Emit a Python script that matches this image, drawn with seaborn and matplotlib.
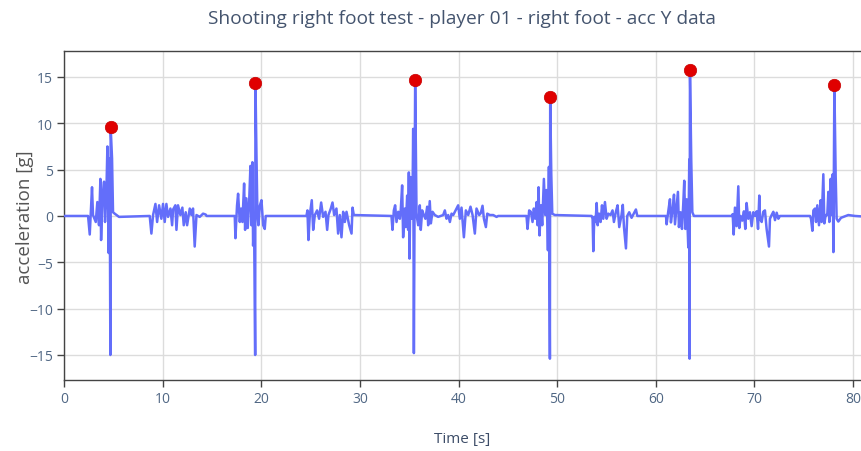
import matplotlib
matplotlib.use("Agg")
import matplotlib.pyplot as plt
import seaborn as sns
import pandas as pd

# ---- data ----
time_s = [
    0.00, 2.44, 2.61, 2.84, 2.94, 3.22, 3.38, 3.55, 3.69, 3.76, 3.89, 4.06, 4.16, 4.30, 4.40,
    4.53, 4.63, 4.70, 4.73, 4.87, 4.97, 5.14, 5.58,
    8.69, 8.86, 9.03, 9.27, 9.44, 9.64, 9.87, 10.04, 10.21, 10.38, 10.55, 10.79, 10.96, 11.06,
    11.29, 11.40, 11.56, 11.80, 12.00, 12.14, 12.34, 12.48, 12.75, 12.92, 13.08, 13.25, 13.43,
    13.76, 14.10, 14.37, 14.45,
    17.31, 17.38, 17.54, 17.65, 17.82, 17.95, 18.09, 18.26, 18.36, 18.49, 18.63, 18.77, 18.90,
    19.00, 19.10, 19.17, 19.27, 19.38, 19.41, 19.51, 19.61, 19.71, 19.85, 20.02, 20.19, 20.35,
    20.45,
    24.58, 24.68, 24.78, 24.92, 25.12, 25.26, 25.43, 25.66, 25.86, 26.07, 26.27, 26.51, 26.68,
    26.81, 27.05, 27.22, 27.39, 27.62, 27.79, 27.96, 28.13, 28.30, 28.47, 28.64, 28.91, 29.15,
    29.25, 29.38,
    33.20, 33.30, 33.44, 33.57, 33.71, 33.88, 34.05, 34.15, 34.28, 34.38, 34.55, 34.65, 34.79,
    34.89, 34.96, 35.03, 35.13, 35.23, 35.33, 35.40, 35.47, 35.60, 35.74, 35.91, 36.07, 36.17,
    36.31, 36.48, 36.64, 36.82, 36.92, 37.08, 37.19, 37.36, 37.59, 37.93, 38.44, 38.61, 38.78,
    38.95, 39.12, 39.29, 39.46, 39.96, 40.13, 40.30, 40.54, 40.74, 40.98, 41.21, 41.42, 41.65,
    41.82, 42.09, 42.25, 42.43, 42.57, 42.77, 42.91, 43.17, 43.51, 43.85, 44.02,
    46.89, 46.99, 47.16, 47.33, 47.50, 47.63, 47.77, 47.91, 48.01, 48.11, 48.21, 48.35, 48.48,
    48.65, 48.79, 48.92, 49.06, 49.16, 49.26, 49.29, 49.40, 49.50, 49.76,
    53.49, 53.59, 53.66, 53.76, 53.89, 54.00, 54.10, 54.24, 54.40, 54.54, 54.67, 54.84, 55.01,
    55.18, 55.41, 55.61, 55.75, 55.95, 56.12, 56.29, 56.52, 56.65, 56.77, 56.97, 57.10, 57.30,
    57.54, 57.78, 57.98, 58.12,
    61.03, 61.09, 61.26, 61.43, 61.53, 61.70, 61.84, 61.94, 62.11, 62.24, 62.34, 62.51, 62.65,
    62.78, 62.88, 62.99, 63.12, 63.29, 63.39, 63.42, 63.46, 63.59, 63.70, 63.86,
    67.68, 67.79, 67.89, 68.02, 68.19, 68.36, 68.46, 68.60, 68.77, 68.93, 69.07, 69.20, 69.37,
    69.54, 69.71, 69.88, 70.05, 70.22, 70.36, 70.49, 70.56, 70.73, 70.89, 71.06, 71.23, 71.47,
    71.57, 71.74, 71.91, 72.08, 72.25, 72.42, 72.58,
    75.63, 75.73, 75.87, 75.97, 76.14, 76.24, 76.37, 76.54, 76.71, 76.81, 76.98, 77.08, 77.22,
    77.38, 77.49, 77.59, 77.72, 77.83, 77.93, 78.00, 78.10, 78.23, 78.33, 78.50, 78.77, 79.01,
    79.51, 80.19, 80.90,
]
acc_y_g = [
    0.00, 0.00, -2.0, 3.1, 0.1, -0.65, 1.5, -1.0, 4.0, -2.6, 1.9, 3.7, -0.65, 2.6, 7.5,
    -4.0, 6.2, -15.0, 9.6, 6.2, 0.4, 0.25, -0.1,
    0.0, -1.9, 0.1, 1.3, -0.65, 1.15, -0.3, 1.3, -0.65, 1.3, -0.1, 0.8, -1.0, 0.7,
    1.15, -1.5, 1.15, 0.1, 0.9, -1.0, 0.4, -1.0, 0.8, 0.1, 0.8, -3.3, 0.1,
    -0.1, 0.25, 0.15, 0.0,
    0.0, -2.4, 1.1, 2.4, -0.65, 0.8, -0.65, 3.5, -1.5, 1.9, -1.3, 1.5, 5.4,
    -1.0, 5.8, -3.2, -0.65, -15.0, 14.4, 6.7, 0.1, -1.0, 1.1, 1.7, -1.0, -1.4,
    0.0,
    0.0, 0.6, -2.6, 0.1, 1.7, -1.5, 0.1, 0.6, -0.3, 1.45, -0.1, 0.45, -1.5,
    0.1, 0.8, 1.45, 0.1, 0.8, -1.9, 0.1, -2.3, 0.45, -0.65, 0.45, -1.0, -1.9,
    0.9, 0.1,
    0.0, -1.5, 0.6, 1.15, -0.65, 0.45, -0.3, 0.8, 3.3, -2.3, 0.8, -1.2, 2.2,
    -1.5, 4.7, -4.6, 4.2, -0.3, 1.5, 9.4, -14.8, 14.7, 0.1, -1.0, 1.15, -1.5,
    0.6, 0.1, -0.3, 1.0, -1.0, 1.6, -0.8, 0.45, 0.1, -0.1, 0.1, 0.6, -0.3,
    0.1, -0.65, 0.25, 0.1, 1.15, -0.3, 0.9, -2.3, 0.6, 0.1, 1.0, 0.1, -1.9,
    0.8, 0.1, 0.3, 1.1, -0.3, -1.2, 0.25, 0.1, 0.1, -0.1, 0.0,
    0.0, -1.4, 0.6, 0.45, -0.65, 0.8, -0.3, 1.5, -1.0, 3.1, -2.1, 1.15, -1.0,
    4.0, 0.1, 2.8, -3.7, 5.3, -15.4, 12.8, 4.5, 0.25, 0.1,
    0.0, -0.3, -3.8, -0.1, -0.65, 1.4, -1.0, 0.25, -0.65, 1.15, -0.3, 1.5, -0.3,
    0.25, 0.1, 0.6, -0.65, 0.45, 1.15, -1.2, 0.1, 1.2, -1.2, -3.5, 0.0, 0.4,
    -0.2, 0.3, 0.7, 0.0,
    0.0, -0.9, 0.5, 1.8, -0.7, 0.7, 2.3, -0.9, 1.1, 2.6, -1.2, 0.4, -1.4,
    1.3, 3.8, -1.4, 1.8, -3.4, 6.1, -15.4, 15.7, 6.0, 0.4, 0.0,
    0.0, 0.2, -2.0, 0.9, -1.1, 3.2, -1.3, 0.0, -0.5, 0.5, -1.4, 1.4, -0.3,
    0.4, -1.1, 0.4, 0.0, 0.5, -1.4, 2.2, -0.3, -0.65, 0.45, 0.6, -1.4, -3.3,
    -0.3, 0.1, 0.45, -0.45, 0.35, -0.3, 0.0,
    0.0, -0.3, -1.6, 0.6, 0.8, -0.65, 1.15, -1.0, 1.7, -0.65, 4.5, -0.8, 0.1,
    0.1, 2.6, -0.65, 4.0, 0.1, 4.5, -3.9, 14.1, 4.4, -0.3, -0.6, -0.2, -0.1,
    0.1, 0.0, -0.05,
]
peak_time_s = [4.73, 19.41, 35.60, 49.29, 63.46, 78.10]
peak_acc_g = [9.6, 14.4, 14.7, 12.8, 15.7, 14.1]

title_text = "Shooting right foot test - player 01 - right foot - acc Y data"
x_label = "Time [s]"
y_label = "acceleration [g]"
x_ticks = [0, 10, 20, 30, 40, 50, 60, 70, 80]
y_ticks = [-15, -10, -5, 0, 5, 10, 15]

signal = pd.DataFrame({"t": time_s, "acc": acc_y_g})
peaks = pd.DataFrame({"t": peak_time_s, "acc": peak_acc_g})

sns.set_theme(style="white")
plt.rcParams["font.family"] = ["Open Sans", "DejaVu Sans"]

fig = plt.figure(figsize=(8.62, 4.52), dpi=100)
ax = fig.add_axes([64 / 862, 1 - 381 / 452, 1 - 64 / 862, (381 - 52) / 452])

sns.lineplot(data=signal, x="t", y="acc", ax=ax, color="#636efa", linewidth=1.8,
             estimator=None, sort=False, zorder=3)
sns.scatterplot(data=peaks, x="t", y="acc", ax=ax, color="#e00000", s=80,
                edgecolor="#c80000", linewidth=0.5, zorder=4)

ax.set_xlim(0, 80.9)
ax.set_ylim(-17.7, 17.8)
ax.set_xticks(x_ticks)
ax.set_yticks(y_ticks)
ax.grid(True, color="#dcdcdc", linewidth=1.0)
ax.set_axisbelow(True)

tick_color = "#506784"
ax.tick_params(axis="both", which="both", direction="out", length=5, width=1,
               color="#444444", labelcolor=tick_color, labelsize=10, pad=3)
ax.tick_params(left=True, bottom=True)
for side in ["left", "bottom", "top"]:
    ax.spines[side].set_visible(True)
    ax.spines[side].set_color("#444444")
    ax.spines[side].set_linewidth(1.0)
ax.spines["right"].set_visible(False)

ax.set_xlabel("")
ax.set_ylabel("")
fig.text(462 / 862, 1 - 440 / 452, x_label, ha="center", va="center",
         fontsize=11, color="#3d4d68")
fig.text(25 / 862, 1 - 217 / 452, y_label, ha="center", va="center",
         rotation=90, fontsize=13.5, color="#555555")
fig.text(462 / 862, 1 - 19 / 452, title_text, ha="center", va="center",
         fontsize=13.8, color="#44546e")

fig.savefig("out.png", dpi=100)
